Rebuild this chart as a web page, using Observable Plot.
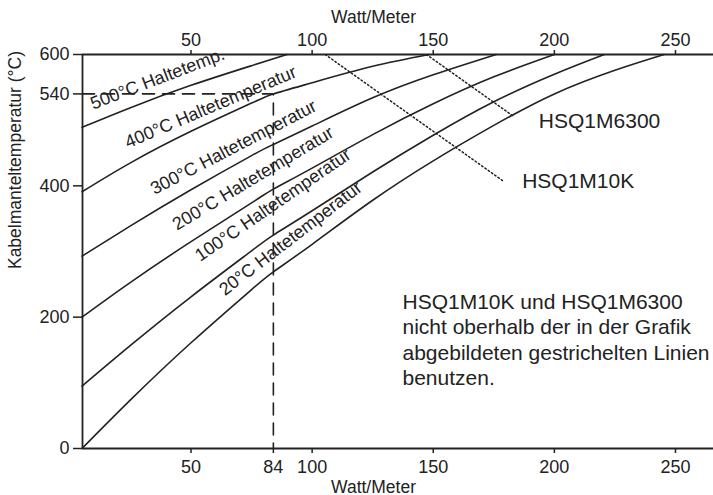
<!DOCTYPE html>
<html><head><meta charset="utf-8">
<script src="https://cdn.jsdelivr.net/npm/d3@7"></script>
<script src="https://cdn.jsdelivr.net/npm/@observablehq/plot@0.6"></script>
<style>body{margin:0;background:#fff}</style>
</head><body><div id="chart"></div>
<script>
// ---- data ----
const xTicksBottom = [50, 84, 100, 150, 200, 250];
const xTicksTop = [50, 100, 150, 200, 250];
const yTicks = [0, 200, 400, 540, 600];

const holdTemps = [500, 400, 300, 200, 100, 20];
const curve500 = [[5, 489], [25, 519], [50, 553], [75, 583], [89.6, 600]];
const curve400 = [[5, 391], [25, 435], [50, 483], [75, 526], [84, 540], [100, 557], [125, 582], [148.3, 600]];
const curve300 = [[5, 293], [25, 339], [50, 394], [75, 446], [84, 463], [100, 491], [125, 534], [150, 569], [176, 600]];
const curve200 = [[5, 200], [25, 253], [50, 315], [75, 374], [84, 395], [100, 427], [125, 478], [150, 525], [175, 566], [200, 600]];
const curve100 = [[5, 95], [25, 157], [50, 231], [75, 301], [84, 325], [100, 362], [125, 421], [150, 477], [175, 528], [200, 570], [220.6, 600]];
const curve20  = [[5, 0], [25, 74], [50, 161], [75, 242], [84, 269], [100, 311], [125, 378], [150, 438], [175, 492], [200, 540], [225, 576], [245.3, 600]];
const curves = [curve500, curve400, curve300, curve200, curve100, curve20];

const curveLabels = ["500°C Haltetemp.", "400°C Haltetemperatur", "300°C Haltetemperatur",
  "200°C Haltetemperatur", "100°C Haltetemperatur", "20°C Haltetemperatur"];
const labelW = [9.6, 24, 34.9, 44.2, 53.8, 64];
const labelT = [516, 457, 386, 331.5, 284, 232];
const labelAngle = [-21, -23, -27.5, -31, -34.5, -37.5];

const exampleWatt = 84, exampleTemp = 540, axisStartWatt = 5.2, axisEndWatt = 265.7;

const limitNames = ["HSQ1M10K", "HSQ1M6300"];
const limit10k = [[105.4, 600], [178.6, 408]];
const limit6300 = [[147.2, 600], [182.7, 507]];
const limitLabelW = [186.7, 193.6];
const limitLabelT = [396.3, 488.7];

const noteText = "HSQ1M10K und HSQ1M6300\nnicht oberhalb der in der Grafik\nabgebildeten gestrichelten Linien\nbenutzen.";
const xTitle = "Watt/Meter";
const yTitle = "Kabelmanteltemperatur (°C)";

// ---- tables ----
const curveRows = curves.flatMap((c, i) => c.map(([w, t]) => ({hold: holdTemps[i], w, t})));
const labelRows = curveLabels.map((text, i) => ({text, w: labelW[i], t: labelT[i], a: labelAngle[i]}));
const exampleRows = [{w: axisStartWatt, t: exampleTemp}, {w: exampleWatt, t: exampleTemp}, {w: exampleWatt, t: 0}];
const limitRows = [limit10k, limit6300].flatMap((l, i) => l.map(([w, t]) => ({name: limitNames[i], w, t})));
const limitLabelRows = limitNames.map((name, i) => ({name, w: limitLabelW[i], t: limitLabelT[i]}));

const ink = "#222";
const chart = Plot.plot({
  width: 713, height: 495,
  marginLeft: 82, marginRight: 0, marginTop: 54, marginBottom: 47,
  style: {fontFamily: "'Liberation Sans', Arial, Helvetica, sans-serif", color: ink, background: "#fff"},
  x: {domain: [axisStartWatt, axisEndWatt]},
  y: {domain: [0, 600]},
  marks: [
    Plot.line(curveRows, {x: "w", y: "t", z: "hold", curve: "natural", stroke: ink, strokeWidth: 1.6}),
    Plot.line(exampleRows, {x: "w", y: "t", stroke: ink, strokeWidth: 1.6, strokeDasharray: "12,8"}),
    Plot.line(limitRows, {x: "w", y: "t", z: "name", stroke: ink, strokeWidth: 1.5, strokeDasharray: "1.5,2.5"}),
    Plot.ruleY([0, 600], {stroke: ink, strokeWidth: 1.8}),
    Plot.ruleX([axisStartWatt], {stroke: ink, strokeWidth: 1.8}),
    Plot.axisX({anchor: "bottom", ticks: xTicksBottom, tickSize: 5, tickPadding: 7, label: null, fontSize: 18, strokeWidth: 1.5}),
    Plot.axisX({anchor: "top", ticks: xTicksTop, tickSize: 5, tickPadding: 4, label: null, fontSize: 18, strokeWidth: 1.5}),
    Plot.axisY({anchor: "left", ticks: yTicks, tickSize: 9, tickPadding: 4, label: null, fontSize: 18, strokeWidth: 1.5}),
    Plot.text(labelRows, {x: "w", y: "t", text: "text", rotate: "a", textAnchor: "start", lineAnchor: "bottom", fontSize: 18, fill: ink}),
    Plot.text(limitLabelRows, {x: "w", y: "t", text: "name", textAnchor: "start", lineAnchor: "bottom", fontSize: 21, fill: ink}),
    Plot.text([noteText], {x: 137.3, y: 239.5, text: d => d, textAnchor: "start", lineAnchor: "top", lineHeight: 1.2, fontSize: 21, fill: ink}),
    Plot.text([xTitle], {frameAnchor: "top-left", dx: 291, dy: -31.3, text: d => d, textAnchor: "middle", lineAnchor: "bottom", fontSize: 17.5, fill: ink}),
    Plot.text([xTitle], {frameAnchor: "bottom-left", dx: 291, dy: 44, text: d => d, textAnchor: "middle", lineAnchor: "bottom", fontSize: 17.5, fill: ink}),
    Plot.text([yTitle], {frameAnchor: "top-left", dx: -61.3, dy: 105.5, rotate: -90, text: d => d, textAnchor: "middle", lineAnchor: "bottom", fontSize: 17.5, fill: ink})
  ]
});
document.getElementById("chart").appendChild(chart);
</script>
</body></html>
